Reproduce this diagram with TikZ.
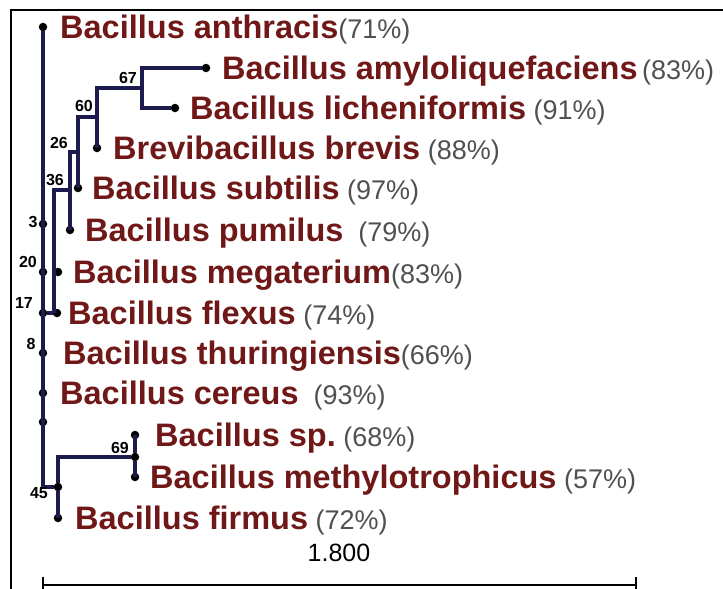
\documentclass[tikz,border=0pt]{standalone}
\usepackage{fontspec}
\setmainfont{Liberation Sans}
\usetikzlibrary{positioning,calc}
\definecolor{Navy}{HTML}{1B1B4D}
\definecolor{Maroon}{HTML}{701818}
\definecolor{Grey}{HTML}{505050}
\newcommand{\taxon}[2]{{\color{Maroon}\bfseries #1}{\color{Grey}\fontsize{27}{27}\selectfont #2}}

\begin{document}
\begin{tikzpicture}[x=1pt,y=-1pt,
    leafdot/.style={circle,fill=black,inner sep=0pt,minimum size=8.5pt},
    branch/.style={Navy,line width=3.2pt},
    taxname/.style={anchor=base west,inner sep=0pt,font=\fontsize{32.5}{32.5}\selectfont},
    boot/.style={font=\bfseries\fontsize{16}{16}\selectfont,inner sep=0pt}]
  \useasboundingbox (0,0) rectangle (723,589);
  \draw[line width=2.2pt] (11,589) -- (11,10) -- (723,10);
  % leaves
  \foreach \id/\x/\y in {anth/43/27,amylo/206/68,lich/175/108,brev/97/148,subt/78/188,
      pum/70/230,meg/58/272,flex/57/313,thur/43/353,cer/43/393,bsp/135/435,meth/135/477,firm/58/518}
    \node[leafdot] (\id) at (\x,\y) {};
  % inner nodes
  \coordinate (n67) at (142,88);
  \coordinate (n60) at (97,117);
  \coordinate (n26) at (78,152);
  \coordinate (n36) at (70,190);
  \coordinate (n20) at (54,313);
  \node[leafdot] (n3) at (43,224) {};
  \node[leafdot] (n17) at (43,313) {};
  \node[leafdot] (n8) at (43,272) {};
  \node[leafdot] (nroot) at (43,422) {};
  \node[leafdot] (n69) at (135,457) {};
  \node[leafdot] (n45) at (58,487) {};
  \draw[branch] (n67) |- (amylo);
  \draw[branch] (n67) |- (lich);
  \draw[branch] (n60) |- (n67);
  \draw[branch] (n60) |- (brev);
  \draw[branch] (n26) |- (n60);
  \draw[branch] (n26) |- (subt);
  \draw[branch] (n36) |- (n26);
  \draw[branch] (n36) |- (pum);
  \draw[branch] (n20) |- (n36);
  \draw[branch] (meg -| n20) -- (meg);
  \draw[branch] (n20) -- (flex);
  \draw[branch] (n17) -- (n20);
  \draw[branch] (n69) |- (bsp);
  \draw[branch] (n69) |- (meth);
  \draw[branch] (n45) |- (n69);
  \draw[branch] (n45) |- (firm);
  \draw[branch] (anth) |- (n45);
  % names
  \node[taxname] at ($(anth)+(17,11.5)$) {\taxon{Bacillus anthracis}{(71\%)}};
  \node[taxname] at ($(amylo)+(16,11.5)$) {\taxon{Bacillus amyloliquefaciens}{\,(83\%)}};
  \node[taxname] at ($(lich)+(15,11.5)$) {\taxon{Bacillus licheniformis}{\ (91\%)}};
  \node[taxname] at ($(brev)+(16,11.5)$) {\taxon{Brevibacillus brevis}{\ (88\%)}};
  \node[taxname] at ($(subt)+(14,11.5)$) {\taxon{Bacillus subtilis}{\ (97\%)}};
  \node[taxname] at ($(pum)+(15,11.5)$) {\taxon{Bacillus pumilus}{\ \ (79\%)}};
  \node[taxname] at ($(meg)+(15,11.5)$) {\taxon{Bacillus megaterium}{(83\%)}};
  \node[taxname] at ($(flex)+(11,11.5)$) {\taxon{Bacillus flexus}{\ (74\%)}};
  \node[taxname] at ($(thur)+(20,11.5)$) {\taxon{Bacillus thuringiensis}{(66\%)}};
  \node[taxname] at ($(cer)+(17,11.5)$) {\taxon{Bacillus cereus}{\ \ (93\%)}};
  \node[taxname] at ($(bsp)+(20,11.5)$) {\taxon{Bacillus sp.}{\ (68\%)}};
  \node[taxname] at ($(meth)+(15,11.5)$) {\taxon{Bacillus methylotrophicus}{\ (57\%)}};
  \node[taxname] at ($(firm)+(17,11.5)$) {\taxon{Bacillus firmus}{\ (72\%)}};
  % bootstrap values
  \node[boot] at (128,78) {67};
  \node[boot] at (84,106) {60};
  \node[boot] at (59,143) {26};
  \node[boot] at (55,180) {36};
  \node[boot] at (33,222) {3};
  \node[boot] at (28,262) {20};
  \node[boot] at (24,303) {17};
  \node[boot] at (31,344) {8};
  \node[boot] at (120,448) {69};
  \node[boot] at (39,493) {45};
  % scale
  \coordinate (sbl) at (43,585);
  \coordinate (sbr) at (636,585);
  \draw[line width=2.2pt] (sbl) -- (sbr);
  \draw[line width=2.8pt] ($(sbl)+(0,-8)$) -- ($(sbl)+(0,4)$);
  \draw[line width=2.8pt] ($(sbr)+(0,-8)$) -- ($(sbr)+(0,4)$);
  \node[font=\fontsize{25}{25}\selectfont] (scl) at (339,553) {1.800};
\end{tikzpicture}
\end{document}
